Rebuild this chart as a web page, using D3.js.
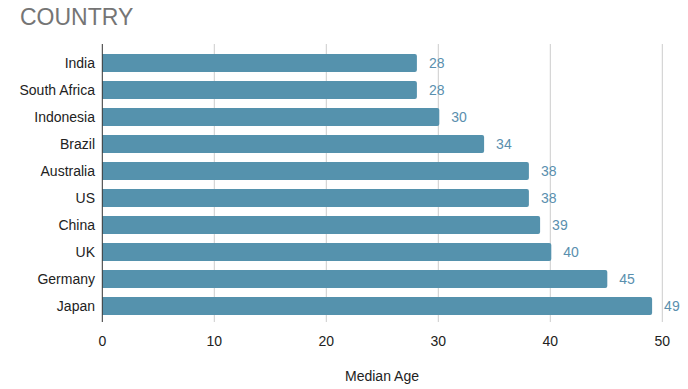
<!DOCTYPE html>
<html><head><meta charset="utf-8">
<script src="https://cdn.jsdelivr.net/npm/d3@7"></script>
<style>body{margin:0;background:#fff;} svg{display:block;font-family:"Liberation Sans",Arial,sans-serif;}</style>
</head><body>
<svg id="c" width="688" height="389"></svg>
<script>
const countries = ["India","South Africa","Indonesia","Brazil","Australia","US","China","UK","Germany","Japan"];
const medianAge = [28,28,30,34,38,38,39,40,45,49];
const xTicks = [0,10,20,30,40,50];

const svg = d3.select("#c");
const x = d3.scaleLinear().domain([0,50]).range([102.3,662.3]);
const y = d3.scaleBand().domain(countries).range([49.5,319.5]).paddingInner(0.333).paddingOuter(0.167);
const plotTop = 44, plotBottom = 322;

svg.append("text").attr("x",20).attr("y",25).attr("font-size",23).attr("fill","#757575").text("COUNTRY");

svg.append("g").selectAll("line").data(xTicks.slice(1)).join("line")
  .attr("x1",d=>x(d)).attr("x2",d=>x(d)).attr("y1",plotTop).attr("y2",plotBottom)
  .attr("stroke","#cccccc").attr("stroke-width",1);

const bars = countries.map((c,i)=>({c, v: medianAge[i]}));
svg.append("g").selectAll("path").data(bars).join("path")
  .attr("fill","#5592ad")
  .attr("d",d=>{
    const x0=x(0), x1=x(d.v)+1, y0=y(d.c), h=y.bandwidth(), r=2;
    return `M${x0},${y0}H${x1-r}Q${x1},${y0} ${x1},${y0+r}V${y0+h-r}Q${x1},${y0+h} ${x1-r},${y0+h}H${x0}Z`;
  });

svg.append("g").selectAll("text").data(bars).join("text")
  .attr("x",d=>x(d.v)+13).attr("y",d=>y(d.c)+y.bandwidth()/2).attr("dy","0.35em")
  .attr("font-size",14).attr("fill","#5a8fae").text(d=>d.v);

svg.append("line").attr("x1",x(0)).attr("x2",x(0)).attr("y1",plotTop).attr("y2",plotBottom)
  .attr("stroke","#333333").attr("stroke-width",1);

svg.append("g").selectAll("text").data(countries).join("text")
  .attr("x",95).attr("y",d=>y(d)+y.bandwidth()/2).attr("dy","0.35em")
  .attr("text-anchor","end").attr("font-size",14).attr("fill","#222").text(d=>d);

svg.append("g").selectAll("text").data(xTicks).join("text")
  .attr("x",d=>x(d)).attr("y",346).attr("text-anchor","middle")
  .attr("font-size",14).attr("fill","#222").text(d=>d);

svg.append("text").attr("x",382).attr("y",381).attr("text-anchor","middle")
  .attr("font-size",14).attr("fill","#222").text("Median Age");
</script>
</body></html>
